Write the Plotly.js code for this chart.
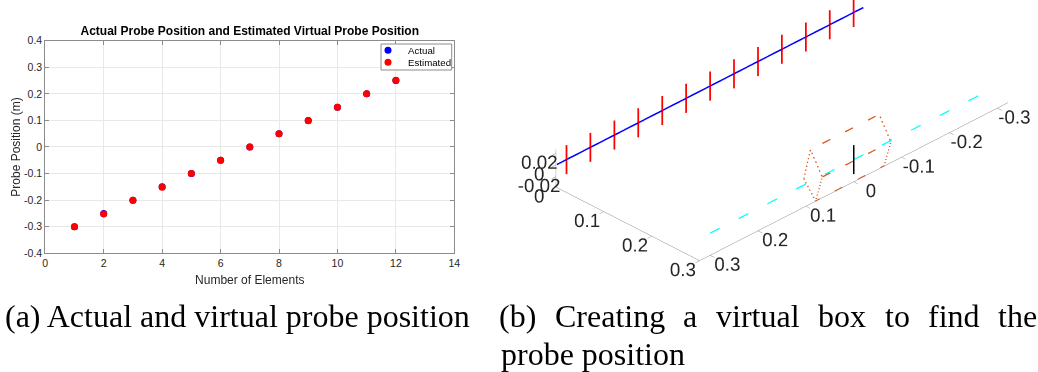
<!DOCTYPE html>
<html><head><meta charset="utf-8">
<script src="https://cdn.plot.ly/plotly-3.0.1.min.js"></script>
<style>html,body{margin:0;padding:0;background:#fff;} #chart{width:1038px;height:372px;} #diag{position:absolute;left:560px;top:300px;font:11px monospace;color:#a00;width:470px;white-space:pre-wrap;}</style>
</head><body><div id="chart"></div><div id="diag"></div>
<script>
const diag = document.getElementById('diag');
window.onerror = function(m){ diag.textContent += 'ERR: ' + m + '\n'; };

// ---------- Panel (a) data ----------
const elements = [1,2,3,4,5,6,7,8,9,10,11,12];
const actualPos = [-0.30,-0.25,-0.20,-0.15,-0.10,-0.05,0.00,0.05,0.10,0.15,0.20,0.25];
const estimatedPos = [-0.30,-0.252,-0.20,-0.151,-0.10,-0.05,0.00,0.05,0.099,0.15,0.20,0.251];
const xTicks2d = [0,2,4,6,8,10,12,14];
const yTicks2d = [-0.4,-0.3,-0.2,-0.1,0,0.1,0.2,0.3,0.4];

// ---------- Panel (b) data (original coordinates) ----------
const elementY = [0.30,0.25,0.20,0.15,0.10,0.05,0.00,-0.05,-0.10,-0.15,-0.20,-0.25,-0.30];
const elementX = 0;
const elementHalfHeight = 0.025;
const probeLineY = [0.32,-0.32];
const virtualLineX = 0.3;
const virtualLineY = [0.30,-0.30];
const estimatedElementY = 0.0;
// virtual box outline: vertices A, L, Bot, C (near face) and A', C', Bot' (far face); null = gap
const boxX = [0.2757,0.2648,0.2648,0.2996,0.2998,0.2998,0.2757,null,0.2648,0.2996,0.2998,null,0.2996,0.2996];
const boxY = [0.0800,0.0551,-0.0882,-0.0780,-0.0638,0.0795,0.0800,null,0.0551,0.0653,0.0795,null,0.0653,-0.0780];
const boxZ = [-0.0093,0.0257,0.0257,-0.0025,-0.0377,-0.0377,-0.0093,null,0.0257,-0.0025,-0.0377,null,-0.0025,-0.0025];
const xTicks3d = [0,0.1,0.2,0.3];
const yTicks3d = [0.3,0.2,0.1,0,-0.1,-0.2,-0.3];
const zTicks3d = [-0.02,0,0.02];
const xRange3d = [0,0.3];
const yRange3d = [-0.322,0.322];
const zRange3d = [-0.038,0.027];

const fmt = v => String(Math.round(v*100)/100);
const flipY = v => (v === null ? null : -v);   // y axis runs reversed in the view

const redX=[], redY=[], redZ=[];
elementY.forEach(y => { redX.push(elementX,elementX,null); redY.push(flipY(y),flipY(y),null); redZ.push(-elementHalfHeight,elementHalfHeight,null); });

const sansFont = 'Liberation Sans, Arial, Helvetica, sans-serif';
const serifFont = 'Liberation Serif, Times New Roman, serif';

const traces = [
  {type:'scatter', mode:'markers', x:elements, y:actualPos, name:'Actual', xaxis:'x', yaxis:'y', legend:'legend',
   marker:{color:'#0000ff', size:7}},
  {type:'scatter', mode:'markers', x:elements, y:estimatedPos, name:'Estimated', xaxis:'x', yaxis:'y', legend:'legend2',
   marker:{color:'#ff0000', size:7}},
  {type:'scatter3d', mode:'lines', scene:'scene', showlegend:false,
   x:[elementX,elementX], y:probeLineY.map(flipY), z:[0,0], line:{color:'#0000ff', width:3}},
  {type:'scatter3d', mode:'lines', scene:'scene', showlegend:false,
   x:redX, y:redY, z:redZ, line:{color:'#ff0000', width:3.5}},
  {type:'scatter3d', mode:'lines', scene:'scene', showlegend:false,
   x:[virtualLineX,virtualLineX], y:virtualLineY.map(flipY), z:[0,0], line:{color:'#00ffff', width:2.5, dash:'longdash'}},
  {type:'scatter3d', mode:'lines', scene:'scene', showlegend:false,
   x:[virtualLineX,virtualLineX], y:[flipY(estimatedElementY),flipY(estimatedElementY)], z:[-elementHalfHeight,elementHalfHeight], line:{color:'#000000', width:3}},
  {type:'scatter3d', mode:'lines', scene:'scene', showlegend:false,
   x:boxX, y:boxY.map(flipY), z:boxZ, line:{color:'#d95319', width:2.5, dash:'dash'}}
];

const axis3d = (ticks, range, flip) => ({
  range: range, autorange:false,
  tickmode:'array', tickvals: ticks.map(v => flip ? -v : v), ticktext: ticks.map(fmt), tickangle:0,
  showgrid:false, zeroline:false, showline:true, linecolor:'#8a8a8a', linewidth:1,
  ticks:'outside', ticklen:6, tickwidth:1, tickcolor:'#8a8a8a',
  showbackground:false, showspikes:false, title:{text:''},
  tickfont:{family:sansFont, size:15, color:'#262626'}
});

const legendCommon = {xanchor:'left', yanchor:'top', bgcolor:'rgba(0,0,0,0)', borderwidth:0,
  font:{family:sansFont, size:9.7, color:'#000'}, tracegroupgap:0, itemwidth:30};

// camera: view direction (az 45 deg, el ~31 deg), look-at point shifted to place the box
const viewDir = [0.607,-0.607,0.512];
const lookAt = [-0.0204,-0.1152,-0.1124];
const camDist = 2;

const layout = {
  width:1038, height:372, margin:{l:0,r:0,t:0,b:0},
  paper_bgcolor:'#ffffff', plot_bgcolor:'#ffffff', showlegend:true,
  title:{text:'<b>Actual Probe Position and Estimated Virtual Probe Position</b>',
         font:{family:sansFont, size:12, color:'#000'}, xref:'paper', yref:'paper',
         x:0.2406, xanchor:'center', y:0.9167, yanchor:'middle'},
  xaxis:{domain:[0.0436,0.4377], range:[0,14], tickvals:xTicks2d, ticktext:xTicks2d.map(fmt),
         showline:true, mirror:'ticks', linecolor:'#8c8c8c', linewidth:1, ticks:'inside', ticklen:4, tickcolor:'#8c8c8c',
         showgrid:true, gridcolor:'#e8e8e8', zeroline:false,
         tickfont:{family:sansFont, size:10.5, color:'#262626'},
         title:{text:'Number of Elements', font:{family:sansFont, size:12, color:'#262626'}, standoff:7}},
  yaxis:{domain:[0.3191,0.8906], range:[-0.4,0.4], tickvals:yTicks2d, ticktext:yTicks2d.map(fmt),
         showline:true, mirror:'ticks', linecolor:'#8c8c8c', linewidth:1, ticks:'inside', ticklen:4, tickcolor:'#8c8c8c',
         showgrid:true, gridcolor:'#e8e8e8', zeroline:false,
         tickfont:{family:sansFont, size:10.5, color:'#262626'},
         title:{text:'Probe Position (m)', font:{family:sansFont, size:12, color:'#262626'}, standoff:0}},
  legend: Object.assign({x:368/1038, y:(372-35.7)/372}, legendCommon),
  legend2: Object.assign({x:368/1038, y:(372-47.7)/372}, legendCommon),
  shapes:[{type:'rect', xref:'paper', yref:'paper', layer:'above',
           x0:381/1038, x1:451.7/1038, y0:(372-70)/372, y1:(372-44)/372,
           fillcolor:'#ffffff', line:{color:'#8c8c8c', width:1}}],
  scene:{
    domain:{x:[0.48,1], y:[0.22,1]},
    xaxis: axis3d(xTicks3d, xRange3d, false),
    yaxis: axis3d(yTicks3d, [-yRange3d[1], -yRange3d[0]], true),
    zaxis: axis3d(zTicks3d, zRange3d, false),
    aspectmode:'manual', aspectratio:{x:1.401, y:3.007, z:0.3036},
    camera:{projection:{type:'orthographic'}, up:{x:0,y:0,z:1},
            center:{x:lookAt[0], y:lookAt[1], z:lookAt[2]},
            eye:{x:lookAt[0]+camDist*viewDir[0], y:lookAt[1]+camDist*viewDir[1], z:lookAt[2]+camDist*viewDir[2]}}
  },
  annotations:[
    {text:'(a) Actual and virtual probe position', x:3/1038, y:0.1508},
    {text:'(b)', x:497/1038, y:0.1508},
    {text:'Creating', x:552.6/1038, y:0.1508},
    {text:'a', x:681.2/1038, y:0.1508},
    {text:'virtual', x:714/1038, y:0.1508},
    {text:'box', x:816.2/1038, y:0.1508},
    {text:'to', x:882.8/1038, y:0.1508},
    {text:'find', x:925.9/1038, y:0.1508},
    {text:'the', x:996/1038, y:0.1508},
    {text:'probe position', x:499/1038, y:0.0478}
  ].map(a => Object.assign({xref:'paper', yref:'paper', xanchor:'left', yanchor:'middle', showarrow:false,
        font:{family:serifFont, size:32, color:'#000'}}, a))
};

Plotly.newPlot('chart', traces, layout, {displayModeBar:false})
  .catch(e => { diag.textContent += 'plot error: ' + e + '\n'; });
</script></body></html>
